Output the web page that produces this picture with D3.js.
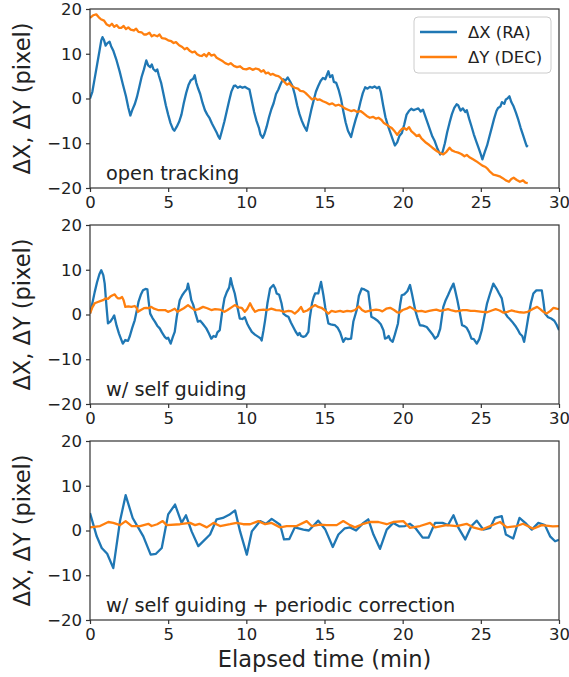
<!DOCTYPE html>
<html><head><meta charset="utf-8">
<script src="https://cdn.jsdelivr.net/npm/d3@7"></script>
<style>body{margin:0;background:#fff}svg{display:block}text{font-family:"DejaVu Sans",sans-serif;fill:#222}</style>
</head><body>
<script>
// ---- data: [time (min), pixel offset] ----
const xTicks = [0, 5, 10, 15, 20, 25, 30];
const yTicks = [20, 10, 0, -10, -20];
const panelLabels = ["open tracking", "w/ self guiding", "w/ self guiding + periodic correction"];
const seriesNames = ["ΔX (RA)", "ΔY (DEC)"];

const openRA = [[0,0],[0.15,1.5],[0.3,4.5],[0.45,7.5],[0.6,10.5],[0.72,13.0],[0.8,13.7],[0.9,13.0],[1.0,11.8],[1.1,12.3],[1.25,12.7],[1.35,11.7],[1.5,10.6],[1.7,8.5],[1.9,6.0],[2.1,3.2],[2.3,0.5],[2.45,-2.0],[2.58,-3.8],[2.7,-2.6],[2.86,-1.3],[3.0,0.3],[3.15,2.5],[3.3,4.8],[3.45,6.5],[3.6,8.5],[3.72,7.4],[3.85,7.0],[3.95,7.6],[4.05,6.6],[4.2,6.1],[4.3,6.5],[4.4,5.2],[4.55,3.5],[4.7,1.0],[4.85,-1.5],[5.0,-3.6],[5.15,-5.5],[5.3,-6.8],[5.4,-7.2],[5.55,-6.3],[5.7,-5.2],[5.85,-3.6],[6.0,-1.0],[6.15,1.2],[6.3,3.0],[6.45,4.1],[6.6,4.4],[6.7,5.2],[6.8,3.5],[6.9,2.4],[7.05,1.0],[7.2,-1.0],[7.35,-2.6],[7.5,-3.6],[7.65,-4.4],[7.8,-5.6],[7.95,-6.6],[8.1,-7.6],[8.2,-8.4],[8.3,-9.0],[8.45,-7.1],[8.6,-5.1],[8.75,-2.8],[8.9,-0.5],[9.05,1.6],[9.2,2.8],[9.3,2.9],[9.45,2.4],[9.6,2.7],[9.75,2.4],[9.9,2.6],[10.05,2.3],[10.2,2.0],[10.35,-0.5],[10.5,-3.0],[10.65,-5.0],[10.8,-6.5],[10.9,-8.0],[11.05,-8.8],[11.15,-8.0],[11.3,-6.3],[11.45,-4.2],[11.6,-2.4],[11.75,-1.0],[11.9,1.0],[12.05,2.0],[12.2,3.3],[12.35,4.3],[12.5,4.0],[12.65,4.7],[12.8,3.8],[12.95,2.8],[13.1,0.9],[13.25,-1.5],[13.4,-3.5],[13.55,-5.0],[13.7,-6.2],[13.86,-7.2],[14.0,-5.0],[14.15,-2.6],[14.3,-0.5],[14.45,1.5],[14.6,2.8],[14.75,3.9],[14.9,4.6],[15.05,4.3],[15.25,6.1],[15.35,4.8],[15.5,5.2],[15.6,3.7],[15.75,3.5],[15.9,2.0],[16.05,0.0],[16.2,-2.8],[16.35,-5.3],[16.5,-7.2],[16.7,-8.6],[16.85,-6.5],[17.0,-4.6],[17.15,-3.0],[17.3,-0.8],[17.45,1.2],[17.6,2.5],[17.75,2.2],[17.9,2.6],[18.05,2.4],[18.2,2.7],[18.35,2.3],[18.5,2.6],[18.6,1.5],[18.75,-1.5],[18.9,-4.2],[19.05,-6.0],[19.2,-7.5],[19.35,-9.0],[19.5,-10.5],[19.65,-9.8],[19.8,-8.3],[19.95,-7.7],[20.1,-5.8],[20.25,-3.6],[20.4,-2.8],[20.55,-2.3],[20.7,-2.6],[20.85,-2.4],[21.0,-2.2],[21.15,-2.9],[21.3,-2.5],[21.45,-4.0],[21.6,-5.5],[21.75,-7.0],[21.9,-8.5],[22.05,-9.5],[22.2,-11.0],[22.4,-12.5],[22.55,-12.0],[22.7,-10.0],[22.85,-7.5],[23.0,-5.4],[23.15,-3.5],[23.3,-2.1],[23.45,-1.3],[23.55,-1.5],[23.7,-2.7],[23.85,-2.2],[24.0,-3.0],[24.1,-2.6],[24.25,-4.5],[24.4,-6.2],[24.55,-8.0],[24.7,-9.5],[24.85,-11.0],[25.0,-12.5],[25.1,-13.6],[25.25,-12.0],[25.4,-10.5],[25.55,-8.5],[25.7,-6.5],[25.85,-4.5],[26.0,-2.8],[26.1,-2.1],[26.25,-1.8],[26.35,-0.8],[26.5,-1.2],[26.6,-0.2],[26.7,0.0],[26.83,0.5],[26.95,-0.8],[27.1,-1.8],[27.25,-3.2],[27.4,-4.8],[27.55,-6.6],[27.7,-8.2],[27.85,-9.8],[27.94,-10.7],[28.0,-10.4]];

const openDEC = [[0,18.0],[0.2,18.6],[0.4,18.8],[0.55,18.2],[0.7,17.7],[0.9,17.4],[1.05,16.6],[1.25,16.2],[1.4,16.7],[1.55,16.0],[1.7,16.4],[1.85,15.8],[2.0,15.8],[2.15,16.2],[2.3,15.5],[2.45,15.9],[2.6,15.4],[2.8,15.2],[2.95,15.6],[3.1,14.9],[3.3,14.8],[3.45,14.3],[3.6,14.3],[3.8,14.7],[3.95,13.9],[4.1,14.2],[4.3,13.9],[4.45,14.3],[4.6,13.5],[4.8,13.4],[5.0,13.0],[5.2,12.8],[5.35,12.4],[5.5,12.6],[5.7,11.9],[5.9,11.5],[6.05,11.0],[6.2,11.3],[6.4,10.6],[6.55,10.3],[6.7,10.5],[6.85,9.9],[7.0,9.6],[7.15,9.5],[7.3,9.9],[7.45,9.4],[7.6,10.2],[7.75,9.6],[7.95,9.8],[8.1,9.1],[8.3,8.7],[8.5,8.3],[8.65,7.9],[8.85,7.6],[9.0,7.9],[9.2,7.3],[9.4,7.0],[9.6,7.2],[9.8,6.6],[10.0,6.5],[10.2,6.8],[10.4,6.4],[10.6,6.7],[10.8,6.5],[10.95,6.0],[11.1,6.3],[11.25,5.6],[11.4,5.8],[11.55,5.3],[11.7,5.5],[11.9,5.1],[12.05,5.0],[12.2,4.6],[12.4,3.8],[12.6,3.1],[12.75,3.4],[12.9,2.8],[13.1,2.4],[13.3,2.2],[13.45,1.7],[13.65,1.6],[13.8,1.2],[14.0,0.5],[14.2,-0.2],[14.4,0.1],[14.55,-0.3],[14.7,-0.2],[14.9,-0.6],[15.1,-0.9],[15.3,-1.3],[15.5,-1.1],[15.7,-1.6],[15.9,-1.4],[16.1,-1.7],[16.3,-2.2],[16.5,-2.5],[16.7,-2.8],[16.9,-2.6],[17.1,-3.0],[17.3,-2.8],[17.5,-3.3],[17.7,-3.9],[17.9,-4.3],[18.1,-4.1],[18.3,-4.5],[18.45,-4.3],[18.65,-4.8],[18.8,-5.5],[19.0,-5.9],[19.15,-6.3],[19.3,-6.6],[19.5,-7.4],[19.65,-8.1],[19.8,-7.4],[19.95,-6.8],[20.1,-6.6],[20.25,-7.0],[20.4,-6.4],[20.55,-7.3],[20.75,-7.9],[20.9,-8.4],[21.05,-8.1],[21.2,-8.9],[21.35,-9.4],[21.5,-9.9],[21.7,-10.4],[21.9,-11.0],[22.05,-11.4],[22.2,-11.8],[22.4,-12.2],[22.6,-12.5],[22.8,-11.9],[23.0,-11.0],[23.15,-11.6],[23.35,-11.9],[23.55,-12.1],[23.75,-12.4],[23.95,-12.9],[24.1,-12.6],[24.3,-13.2],[24.5,-13.6],[24.7,-14.0],[24.9,-14.5],[25.1,-15.0],[25.3,-15.3],[25.45,-15.8],[25.6,-16.4],[25.8,-17.0],[26.0,-17.2],[26.2,-17.4],[26.4,-17.8],[26.6,-18.3],[26.8,-18.6],[26.95,-18.0],[27.1,-17.7],[27.3,-18.2],[27.5,-18.6],[27.7,-18.3],[27.85,-18.8],[28.0,-18.9]];

const selfRA = [[0,0.2],[0.15,2.5],[0.3,5.0],[0.45,7.2],[0.6,9.0],[0.72,9.9],[0.85,8.8],[0.94,6.9],[1.05,2.0],[1.15,-2.0],[1.3,-1.6],[1.45,-0.8],[1.55,-0.2],[1.7,-2.5],[1.85,-4.2],[2.0,-5.6],[2.1,-6.5],[2.25,-5.7],[2.43,-5.9],[2.55,-4.8],[2.7,-3.0],[2.86,-1.3],[3.0,1.0],[3.1,2.8],[3.25,4.4],[3.39,5.4],[3.55,5.7],[3.67,5.6],[3.75,3.0],[3.85,0.2],[4.0,-0.8],[4.15,-1.6],[4.3,-2.5],[4.46,-3.1],[4.6,-4.0],[4.78,-5.0],[4.9,-5.4],[5.0,-5.2],[5.16,-6.5],[5.3,-5.0],[5.42,-3.9],[5.55,-0.5],[5.74,3.2],[5.9,4.3],[6.06,5.1],[6.2,5.7],[6.27,6.9],[6.4,4.8],[6.48,3.2],[6.6,2.2],[6.75,0.2],[6.9,-1.6],[7.05,-1.4],[7.2,-2.0],[7.44,-3.1],[7.6,-4.2],[7.76,-5.4],[7.9,-4.8],[8.05,-5.0],[8.15,-4.0],[8.3,-3.5],[8.45,0.5],[8.6,3.6],[8.75,5.0],[8.9,6.0],[9.0,8.1],[9.1,6.5],[9.26,4.7],[9.4,2.2],[9.58,-0.9],[9.75,-1.0],[9.9,-0.6],[10.05,-2.0],[10.2,-3.0],[10.35,-3.9],[10.55,-4.5],[10.77,-5.0],[10.9,-5.3],[10.98,-5.8],[11.1,-3.5],[11.2,-1.3],[11.35,2.5],[11.52,5.8],[11.65,6.3],[11.73,6.6],[11.85,5.8],[11.94,4.7],[12.1,4.4],[12.25,2.5],[12.37,0.2],[12.55,-0.3],[12.69,-0.5],[12.85,-1.8],[13.0,-2.8],[13.15,-3.8],[13.3,-4.6],[13.4,-4.1],[13.5,-4.8],[13.65,-5.0],[13.8,-4.8],[13.97,-3.9],[14.05,-1.0],[14.2,2.5],[14.3,3.8],[14.4,4.7],[14.6,4.7],[14.78,7.3],[14.93,4.3],[15.05,1.5],[15.25,-2.0],[15.4,-2.2],[15.55,-2.3],[15.67,-2.4],[15.85,-3.0],[16.0,-4.0],[16.2,-6.1],[16.35,-5.3],[16.5,-5.5],[16.7,-5.4],[16.85,-1.5],[17.06,1.0],[17.2,4.2],[17.38,5.8],[17.55,5.6],[17.7,5.3],[17.8,5.1],[17.9,2.3],[18.0,-0.5],[18.2,-0.9],[18.4,-1.4],[18.6,-2.2],[18.77,-3.5],[18.87,-5.4],[19.0,-5.2],[19.1,-4.8],[19.2,-5.6],[19.36,-6.1],[19.5,-4.5],[19.7,-2.0],[19.83,2.0],[19.94,4.3],[20.1,4.5],[20.3,5.2],[20.47,6.6],[20.6,4.5],[20.8,1.0],[20.95,-0.8],[21.1,-2.4],[21.3,-2.5],[21.54,-2.8],[21.7,-3.5],[21.9,-4.4],[22.07,-5.4],[22.25,-4.8],[22.4,-3.2],[22.6,1.7],[22.75,3.2],[22.9,4.3],[23.05,5.5],[23.25,6.9],[23.35,5.5],[23.5,3.2],[23.65,0.5],[23.8,-2.4],[23.95,-2.6],[24.1,-3.0],[24.25,-4.0],[24.4,-5.4],[24.55,-5.5],[24.74,-6.5],[24.9,-5.5],[25.06,-3.5],[25.2,-1.0],[25.4,2.5],[25.6,4.8],[25.8,6.9],[26.0,5.8],[26.15,4.8],[26.34,3.6],[26.5,0.6],[26.7,-0.5],[26.85,-1.0],[27.0,-1.6],[27.2,-2.5],[27.35,-3.3],[27.5,-4.3],[27.65,-4.8],[27.77,-6.1],[27.9,-3.5],[28.04,-0.5],[28.2,2.5],[28.36,4.7],[28.55,5.4],[28.75,5.4],[28.9,5.4],[29.0,3.0],[29.1,0.2],[29.3,-0.6],[29.5,-0.9],[29.7,-1.4],[29.85,-2.3],[30.0,-3.5]];

const selfDEC = [[0,0.2],[0.15,1.6],[0.3,2.5],[0.5,2.8],[0.65,3.0],[0.83,3.2],[1.0,3.6],[1.15,3.5],[1.3,4.0],[1.45,4.3],[1.58,4.5],[1.7,3.9],[1.8,3.6],[1.9,3.6],[2.05,3.9],[2.15,3.2],[2.26,1.7],[2.45,1.8],[2.65,1.7],[2.86,1.9],[3.0,1.4],[3.07,0.6],[3.25,1.0],[3.45,1.4],[3.6,1.5],[3.75,1.4],[3.92,1.7],[4.1,1.3],[4.35,1.0],[4.6,1.0],[4.8,1.0],[4.99,0.6],[5.2,0.9],[5.42,1.3],[5.6,0.6],[5.8,1.0],[6.0,1.4],[6.27,2.1],[6.45,1.6],[6.7,1.0],[6.95,1.2],[7.23,1.7],[7.5,1.4],[7.76,1.0],[8.0,1.2],[8.3,1.1],[8.6,0.6],[8.8,1.0],[9.05,1.6],[9.26,2.1],[9.5,1.6],[9.7,1.5],[9.9,0.6],[10.05,1.2],[10.24,2.5],[10.4,1.4],[10.56,0.6],[10.8,1.0],[11.1,1.1],[11.35,1.0],[11.6,1.3],[11.9,1.0],[12.15,0.9],[12.4,0.6],[12.7,0.8],[12.9,0.7],[13.1,0.2],[13.3,0.8],[13.5,1.7],[13.65,0.6],[13.9,0.9],[14.2,1.7],[14.4,2.1],[14.6,1.7],[14.8,1.5],[15.0,1.0],[15.25,0.2],[15.45,0.8],[15.7,0.6],[16.0,0.8],[16.2,0.6],[16.45,0.8],[16.7,0.7],[16.95,1.0],[17.2,1.8],[17.4,1.0],[17.6,0.6],[17.85,0.8],[18.0,0.9],[18.3,1.1],[18.5,1.0],[18.7,0.7],[18.95,1.3],[19.2,1.5],[19.45,1.0],[19.65,0.5],[19.77,0.4],[20.0,1.0],[20.25,1.3],[20.47,1.7],[20.7,1.2],[20.95,0.7],[21.2,0.8],[21.45,0.6],[21.7,0.8],[21.95,1.0],[22.15,1.1],[22.4,0.8],[22.65,1.0],[22.9,1.2],[23.15,0.9],[23.4,0.7],[23.6,0.8],[23.85,1.0],[24.1,1.0],[24.35,0.8],[24.6,0.8],[24.85,0.7],[25.1,0.6],[25.4,0.5],[25.7,0.9],[25.95,1.2],[26.2,0.9],[26.45,0.4],[26.7,0.6],[26.95,0.9],[27.2,0.7],[27.5,0.5],[27.75,0.4],[28.0,0.6],[28.3,1.2],[28.6,1.7],[28.8,1.2],[29.0,0.6],[29.2,0.2],[29.45,0.8],[29.65,1.5],[29.85,1.3],[30.0,1.2]];

const pcRA = [[0,3.9],[0.43,-1.3],[0.75,-3.9],[1.1,-5.2],[1.49,-8.4],[1.92,2.1],[2.28,7.9],[2.73,2.8],[3.41,-1.3],[3.88,-5.4],[4.22,-5.2],[4.59,-3.9],[5.0,3.6],[5.44,5.8],[5.86,1.7],[6.14,3.4],[6.5,-0.2],[6.93,-3.5],[7.68,-0.9],[8.1,2.5],[8.5,2.8],[8.9,3.5],[9.28,4.5],[9.6,-0.2],[10.03,-5.4],[10.35,-0.2],[10.88,2.1],[11.25,1.5],[11.62,2.6],[12.16,1.3],[12.41,-2.0],[12.75,-1.9],[13.1,0.7],[13.65,0.2],[14.0,0.0],[14.6,2.2],[15.04,0.3],[15.53,-3.7],[15.89,-0.9],[16.3,0.5],[16.63,0.7],[17.02,0.0],[17.49,1.7],[17.8,2.5],[18.13,-0.9],[18.55,-4.1],[18.98,0.2],[19.4,1.7],[19.8,0.9],[20.15,1.0],[20.47,1.5],[20.85,0.4],[21.28,-1.6],[21.65,-1.6],[22.07,1.7],[22.55,1.7],[22.9,1.2],[23.25,3.4],[23.57,0.6],[24.0,-2.0],[24.4,1.0],[24.74,2.2],[25.16,0.2],[25.6,0.6],[25.9,2.8],[26.34,3.2],[26.6,-0.9],[27.07,-1.8],[27.47,2.8],[27.84,1.7],[28.26,0.2],[28.68,1.7],[29.1,1.2],[29.43,-1.3],[29.75,-2.4],[30.0,-2.1]];

const pcDEC = [[0,0.7],[0.64,1.0],[1.17,1.9],[1.49,1.7],[1.92,1.2],[2.28,2.1],[2.67,1.0],[3.2,1.0],[3.73,1.5],[3.94,1.0],[4.3,1.4],[4.65,2.1],[4.9,1.2],[5.76,1.4],[6.4,1.7],[6.72,1.2],[7.0,1.5],[7.47,0.7],[7.9,1.7],[8.32,1.0],[8.96,1.4],[9.38,1.7],[9.8,1.4],[10.24,1.4],[10.77,2.1],[11.2,1.4],[11.62,1.7],[12.16,0.7],[12.58,1.0],[13.22,1.0],[13.86,2.1],[14.18,1.0],[14.71,1.3],[15.14,1.2],[15.78,1.2],[16.2,2.1],[16.63,1.2],[16.95,0.7],[17.49,1.5],[17.91,1.9],[18.45,1.9],[18.98,1.4],[19.4,1.9],[20.04,2.1],[20.47,0.6],[21.11,1.0],[21.75,1.7],[22.07,0.7],[22.8,1.2],[23.45,1.0],[24.09,1.5],[24.5,0.7],[25.06,0.2],[25.6,1.0],[26.23,1.9],[26.66,0.7],[27.3,1.0],[27.7,1.5],[28.35,0.4],[28.9,1.2],[29.6,0.9],[30.0,1.0]];

const panels = [
  {label: panelLabels[0], ra: openRA, dec: openDEC, legend: true},
  {label: panelLabels[1], ra: selfRA, dec: selfDEC, legend: false},
  {label: panelLabels[2], ra: pcRA, dec: pcDEC, legend: false}
];
const colors = ["#1f77b4", "#ff7f0e"];

// ---- layout ----
const W = 569, H = 677;
const left = 90, right = 559, panelTop = [9, 225, 441], panelH = 179;
const svg = d3.select("body").append("svg").attr("width", W).attr("height", H);
const x = d3.scaleLinear().domain([0, 30]).range([left, right]);

panels.forEach((p, i) => {
  const top = panelTop[i], bottom = top + panelH;
  const y = d3.scaleLinear().domain([-20, 20]).range([bottom, top]);
  const g = svg.append("g");

  const clipId = "clip" + i;
  g.append("clipPath").attr("id", clipId).append("rect")
    .attr("x", left).attr("y", top).attr("width", right - left).attr("height", panelH);

  const line = d3.line().x(d => x(d[0])).y(d => y(d[1]));
  [p.ra, p.dec].forEach((s, k) => {
    g.append("path").datum(s).attr("d", line).attr("fill", "none")
      .attr("stroke", colors[k]).attr("stroke-width", 2.3)
      .attr("stroke-linejoin", "round").attr("stroke-linecap", "butt")
      .attr("clip-path", `url(#${clipId})`);
  });

  // axes
  const xa = g.append("g").attr("transform", `translate(0,${bottom})`)
    .call(d3.axisBottom(x).tickValues(xTicks).tickSize(4).tickPadding(4).tickFormat(d3.format("d")));
  const ya = g.append("g").attr("transform", `translate(${left},0)`)
    .call(d3.axisLeft(y).tickValues(yTicks).tickSize(4).tickPadding(4).tickFormat(d => d < 0 ? "\u2212" + Math.abs(d) : String(d)));
  [xa, ya].forEach(a => {
    a.select(".domain").remove();
    a.selectAll(".tick line").attr("stroke", "#333").attr("stroke-width", 1.2);
    a.selectAll(".tick text").attr("font-size", 16.5).attr("fill", "#222")
      .style("font-family", "DejaVu Sans");
  });

  // frame
  g.append("rect").attr("x", left).attr("y", top).attr("width", right - left).attr("height", panelH)
    .attr("fill", "none").attr("stroke", "#333").attr("stroke-width", 1.2);

  // y label
  g.append("text").attr("transform", `translate(23,${top + panelH / 2}) rotate(-90)`)
    .attr("text-anchor", "middle").attr("dominant-baseline", "middle")
    .attr("font-size", 22.5).text("ΔX, ΔY (pixel)");

  // annotation
  g.append("text").attr("x", 106).attr("y", bottom - 8).attr("font-size", 19.3).text(p.label);

  if (p.legend) {
    const lg = g.append("g");
    lg.append("rect").attr("x", 414).attr("y", 17).attr("width", 137).attr("height", 56).attr("rx", 4)
      .attr("fill", "#fff").attr("fill-opacity", 0.85).attr("stroke", "#ccc").attr("stroke-width", 1);
    seriesNames.forEach((n, k) => {
      const yy = 32 + k * 25;
      lg.append("line").attr("x1", 420).attr("x2", 457).attr("y1", yy).attr("y2", yy)
        .attr("stroke", colors[k]).attr("stroke-width", 2.3);
      lg.append("text").attr("x", 468).attr("y", yy).attr("dominant-baseline", "central")
        .attr("font-size", 16.5).text(n);
    });
  }
});

svg.append("text").attr("x", (left + right) / 2).attr("y", 667).attr("text-anchor", "middle")
  .attr("font-size", 22.5).text("Elapsed time (min)");
</script>
</body></html>
